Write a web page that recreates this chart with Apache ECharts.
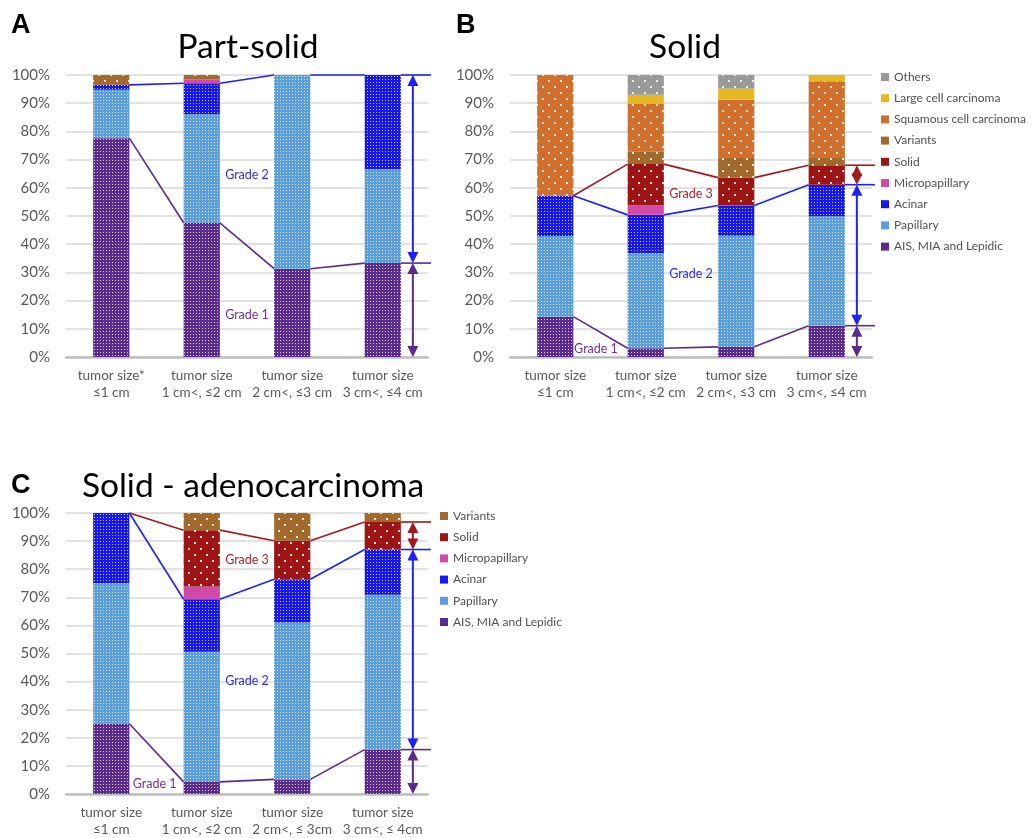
<!DOCTYPE html>
<html>
<head>
<meta charset="utf-8">
<script src="https://cdn.jsdelivr.net/npm/echarts@6/dist/echarts.min.js"></script>
<style>
  html, body { margin: 0; padding: 0; background: #ffffff; }
  #chart { width: 1034px; height: 838px; }
</style>
</head>
<body>
<div id="chart"></div>
<script>
// ---- Category labels ----
const categoriesPartSolid = ['tumor size*\n≤1 cm', 'tumor size\n1 cm<, ≤2 cm', 'tumor size\n2 cm<, ≤3 cm', 'tumor size\n3 cm<, ≤4 cm'];
const categoriesSolid = ['tumor size\n≤1 cm', 'tumor size\n1 cm<, ≤2 cm', 'tumor size\n2 cm<, ≤3 cm', 'tumor size\n3 cm<, ≤4 cm'];
const categoriesAdeno = ['tumor size\n≤1 cm', 'tumor size\n1 cm<, ≤2 cm', 'tumor size\n2 cm<, ≤ 3cm', 'tumor size\n3 cm<, ≤ 4cm'];

// ---- Part-solid (%) ----
const partAIS = [77.6, 47.6, 31.3, 33.3];
const partPapillary = [17.2, 38.5, 68.7, 33.3];
const partAcinar = [1.7, 11.0, 0, 33.4];
const partMicropapillary = [0, 1.4, 0, 0];
const partVariants = [3.5, 1.5, 0, 0];

// ---- Solid (%) ----
const solidAIS = [14.3, 3.1, 3.6, 11.1];
const solidPapillary = [28.6, 33.8, 39.4, 38.8];
const solidAcinar = [14.3, 13.5, 10.7, 11.2];
const solidMicropapillary = [0, 3.4, 0, 0];
const solidSolid = [0, 14.6, 9.9, 6.9];
const solidVariants = [0, 4.4, 7.0, 2.6];
const solidSquamous = [42.8, 16.9, 20.6, 27.2];
const solidLargeCell = [0, 3.3, 4.0, 2.2];
const solidOthers = [0, 7.0, 4.8, 0];

// ---- Solid - adenocarcinoma (%) ----
const adenoAIS = [25.0, 4.3, 5.2, 15.8];
const adenoPapillary = [50.0, 46.3, 55.8, 55.1];
const adenoAcinar = [25.0, 18.7, 15.4, 16.1];
const adenoMicropapillary = [0, 4.5, 0, 0];
const adenoSolid = [0, 20.1, 13.7, 9.8];
const adenoVariants = [0, 6.1, 9.9, 3.2];

// ---- Subtype names ----
const subtypeNames = ['AIS, MIA and Lepidic', 'Papillary', 'Acinar', 'Micropapillary', 'Solid', 'Variants',
  'Squamous cell carcinoma', 'Large cell carcinoma', 'Others'];

// ---- Styling ----
const FONT = 'Lato, "Open Sans", sans-serif';
const subtypeColor = {
  'AIS, MIA and Lepidic': '#5a2a8e',
  'Papillary': '#5a9ee0',
  'Acinar': '#1616f0',
  'Micropapillary': '#d24aa8',
  'Solid': '#9c1515',
  'Variants': '#a06a2c',
  'Squamous cell carcinoma': '#d0702c',
  'Large cell carcinoma': '#e6b824',
  'Others': '#999999'
};
const subtypeTexture = {
  'AIS, MIA and Lepidic': 'dense', 'Papillary': 'dense', 'Acinar': 'dense',
  'Micropapillary': 'flat', 'Solid': 'sparse', 'Variants': 'sparse',
  'Squamous cell carcinoma': 'sparse', 'Large cell carcinoma': 'flat', 'Others': 'sparse'
};
const gradeColor = { g1: '#5a2a8e', g2: '#1f1fff', g3: '#a3181c' };
const gradeTextColor = { g1: '#7030a0', g2: '#2a2aff', g3: '#b0202a' };

function makeTexture(base, kind) {
  if (kind === 'flat') return base;
  const c = document.createElement('canvas');
  const ctx = c.getContext('2d');
  if (kind === 'dense') {
    c.width = 3; c.height = 3;
    ctx.fillStyle = base; ctx.fillRect(0, 0, 3, 3);
    ctx.fillStyle = 'rgba(255,255,255,0.8)';
    ctx.fillRect(1, 1, 1, 1);
  } else {
    c.width = 12; c.height = 12;
    ctx.fillStyle = base; ctx.fillRect(0, 0, 12, 12);
    ctx.fillStyle = 'rgba(255,255,255,0.8)';
    ctx.fillRect(2, 2, 2, 2);
    ctx.fillRect(8, 8, 2, 2);
  }
  return { image: c, repeat: 'repeat' };
}

function barSeries(gridIndex, stack, name, values) {
  return {
    type: 'bar', name: name, stack: stack,
    xAxisIndex: gridIndex, yAxisIndex: gridIndex,
    barWidth: '40%', data: values, silent: true,
    itemStyle: { color: makeTexture(subtypeColor[name], subtypeTexture[name]) }
  };
}

function cumulative(parts) {
  return parts[0].map((_, i) => parts.reduce((s, p) => s + p[i], 0));
}

// Grade boundaries: Grade 1 = AIS/MIA/lepidic, Grade 2 = + papillary + acinar, Grade 3 = + micropapillary + solid
const partG1 = cumulative([partAIS]);
const partG2 = cumulative([partAIS, partPapillary, partAcinar]);
const solidG1 = cumulative([solidAIS]);
const solidG2 = cumulative([solidAIS, solidPapillary, solidAcinar]);
const solidG3 = cumulative([solidAIS, solidPapillary, solidAcinar, solidMicropapillary, solidSolid]);
const adenoG1 = cumulative([adenoAIS]);
const adenoG2 = cumulative([adenoAIS, adenoPapillary, adenoAcinar]);
const adenoG3 = cumulative([adenoAIS, adenoPapillary, adenoAcinar, adenoMicropapillary, adenoSolid]);

// Connector lines between bars, span arrows on the right, and grade captions
function gradeOverlay(gridIndex, bounds, keys, captions) {
  return {
    type: 'custom', xAxisIndex: gridIndex, yAxisIndex: gridIndex,
    z: 10, silent: true, clip: false,
    data: [[0, 0]], encode: { x: 0, y: 1 },
    renderItem: function (params, api) {
      const cs = params.coordSys;
      const band = api.size([1, 0])[0];
      const hw = band * 0.2;
      const n = bounds[0].length;
      const rightEnd = cs.x + cs.width + 3;
      const children = [];
      bounds.forEach((b, k) => {
        const color = gradeColor[keys[k]];
        for (let i = 0; i < n; i++) {
          const p = api.coord([i, b[i]]);
          let x2, y2;
          if (i < n - 1) {
            const q = api.coord([i + 1, b[i + 1]]);
            x2 = q[0] - hw; y2 = q[1];
          } else {
            x2 = rightEnd; y2 = p[1];
          }
          children.push({
            type: 'line',
            shape: { x1: p[0] + hw, y1: p[1], x2: x2, y2: y2 },
            style: { stroke: color, lineWidth: 1.6 }
          });
        }
      });
      // double-headed arrows spanning each grade in the last column
      const last = api.coord([n - 1, 0]);
      const ax = last[0] + hw + 12;
      const levels = bounds.map(b => b[n - 1]);
      for (let k = levels.length - 1; k >= 0; k--) {
        const top = api.coord([n - 1, levels[k]])[1];
        const bottom = api.coord([n - 1, k > 0 ? levels[k - 1] : 0])[1];
        const color = gradeColor[keys[k]];
        const hh = 11, hwid = 5.5;
        children.push({ type: 'line', shape: { x1: ax, y1: top + 2, x2: ax, y2: bottom - 2 },
          style: { stroke: color, lineWidth: 2 } });
        children.push({ type: 'polygon', shape: { points: [[ax, top], [ax - hwid, top + hh], [ax + hwid, top + hh]] },
          style: { fill: color } });
        children.push({ type: 'polygon', shape: { points: [[ax, bottom], [ax - hwid, bottom - hh], [ax + hwid, bottom - hh]] },
          style: { fill: color } });
      }
      captions.forEach(c => {
        const i0 = Math.floor(c.at[0]);
        const x = api.coord([i0, 0])[0] + (c.at[0] - i0) * band;
        const y = api.coord([i0, c.at[1]])[1];
        children.push({
          type: 'text',
          style: { text: c.text, x: x, y: y, fill: gradeTextColor[c.key], font: '12.5px ' + FONT,
            textAlign: 'center', textVerticalAlign: 'middle' }
        });
      });
      return { type: 'group', children: children };
    }
  };
}

const grids = [
  { left: 66, top: 75, width: 362, height: 282 },
  { left: 510, top: 75, width: 362, height: 282 },
  { left: 66, top: 513, width: 362, height: 282 }
];
const categorySets = [categoriesPartSolid, categoriesSolid, categoriesAdeno];

const xAxes = categorySets.map((cats, i) => ({
  type: 'category', gridIndex: i, data: cats,
  axisLine: { lineStyle: { color: '#bfbfbf', width: 2.5 } },
  axisTick: { show: false },
  axisLabel: { interval: 0, color: '#595959', fontFamily: FONT, fontSize: 13.5, lineHeight: 17, margin: 10 }
}));
const yAxes = categorySets.map((_, i) => ({
  type: 'value', gridIndex: i, min: 0, max: 100, interval: 10,
  axisLine: { show: false }, axisTick: { show: false },
  axisLabel: { formatter: '{value}%', color: '#595959', fontFamily: FONT, fontSize: 15, margin: 16 },
  splitLine: { lineStyle: { color: '#d9d9d9', width: 1.5 } }
}));

const series = [
  barSeries(0, 'part', 'AIS, MIA and Lepidic', partAIS),
  barSeries(0, 'part', 'Papillary', partPapillary),
  barSeries(0, 'part', 'Acinar', partAcinar),
  barSeries(0, 'part', 'Micropapillary', partMicropapillary),
  barSeries(0, 'part', 'Variants', partVariants),

  barSeries(1, 'solid', 'AIS, MIA and Lepidic', solidAIS),
  barSeries(1, 'solid', 'Papillary', solidPapillary),
  barSeries(1, 'solid', 'Acinar', solidAcinar),
  barSeries(1, 'solid', 'Micropapillary', solidMicropapillary),
  barSeries(1, 'solid', 'Solid', solidSolid),
  barSeries(1, 'solid', 'Variants', solidVariants),
  barSeries(1, 'solid', 'Squamous cell carcinoma', solidSquamous),
  barSeries(1, 'solid', 'Large cell carcinoma', solidLargeCell),
  barSeries(1, 'solid', 'Others', solidOthers),

  barSeries(2, 'adeno', 'AIS, MIA and Lepidic', adenoAIS),
  barSeries(2, 'adeno', 'Papillary', adenoPapillary),
  barSeries(2, 'adeno', 'Acinar', adenoAcinar),
  barSeries(2, 'adeno', 'Micropapillary', adenoMicropapillary),
  barSeries(2, 'adeno', 'Solid', adenoSolid),
  barSeries(2, 'adeno', 'Variants', adenoVariants),

  gradeOverlay(0, [partG1, partG2], ['g1', 'g2'], [
    { text: 'Grade 2', key: 'g2', at: [1.5, 64.7] },
    { text: 'Grade 1', key: 'g1', at: [1.5, 14.8] }
  ]),
  gradeOverlay(1, [solidG1, solidG2, solidG3], ['g1', 'g2', 'g3'], [
    { text: 'Grade 3', key: 'g3', at: [1.5, 57.8] },
    { text: 'Grade 2', key: 'g2', at: [1.5, 29.3] },
    { text: 'Grade 1', key: 'g1', at: [0.45, 2.8] }
  ]),
  gradeOverlay(2, [adenoG1, adenoG2, adenoG3], ['g1', 'g2', 'g3'], [
    { text: 'Grade 3', key: 'g3', at: [1.5, 83.2] },
    { text: 'Grade 2', key: 'g2', at: [1.5, 40.2] },
    { text: 'Grade 1', key: 'g1', at: [0.48, 3.7] }
  ])
];

function legendItems(names) {
  return names.map(nm => ({ name: nm, itemStyle: { color: subtypeColor[nm] } }));
}
const legendCommon = {
  orient: 'vertical', icon: 'rect', itemWidth: 8, itemHeight: 8, itemGap: 9.2, itemTextGap: 3,
  padding: 0, selectedMode: false,
  textStyle: { color: '#505050', fontFamily: FONT, fontSize: 12 }
};

const option = {
  animation: false,
  backgroundColor: '#ffffff',
  grid: grids,
  xAxis: xAxes,
  yAxis: yAxes,
  legend: [
    Object.assign({}, legendCommon, { left: 881, top: 71, data: legendItems(subtypeNames.slice().reverse()) }),
    Object.assign({}, legendCommon, { left: 440, top: 510, data: legendItems(subtypeNames.slice(0, 6).reverse()) })
  ],
  graphic: [
    { type: 'text', left: 11, top: 12, style: { text: 'A', font: 'bold 27px "Liberation Sans", Arial, sans-serif', fill: '#000' } },
    { type: 'text', left: 456, top: 12, style: { text: 'B', font: 'bold 27px "Liberation Sans", Arial, sans-serif', fill: '#000' } },
    { type: 'text', left: 11, top: 472, style: { text: 'C', font: 'bold 27px "Liberation Sans", Arial, sans-serif', fill: '#000' } },
    { type: 'text', x: 248, y: 47, style: { text: 'Part-solid', font: '33.5px ' + FONT, fill: '#000', textAlign: 'center', textVerticalAlign: 'middle' } },
    { type: 'text', x: 685, y: 47, style: { text: 'Solid', font: '33.5px ' + FONT, fill: '#000', textAlign: 'center', textVerticalAlign: 'middle' } },
    { type: 'text', x: 253, y: 486, style: { text: 'Solid - adenocarcinoma', font: '33.5px ' + FONT, fill: '#000', textAlign: 'center', textVerticalAlign: 'middle' } }
  ],
  series: series
};

const chart = echarts.init(document.getElementById('chart'), null, { renderer: 'canvas' });
chart.setOption(option);
</script>
</body>
</html>
